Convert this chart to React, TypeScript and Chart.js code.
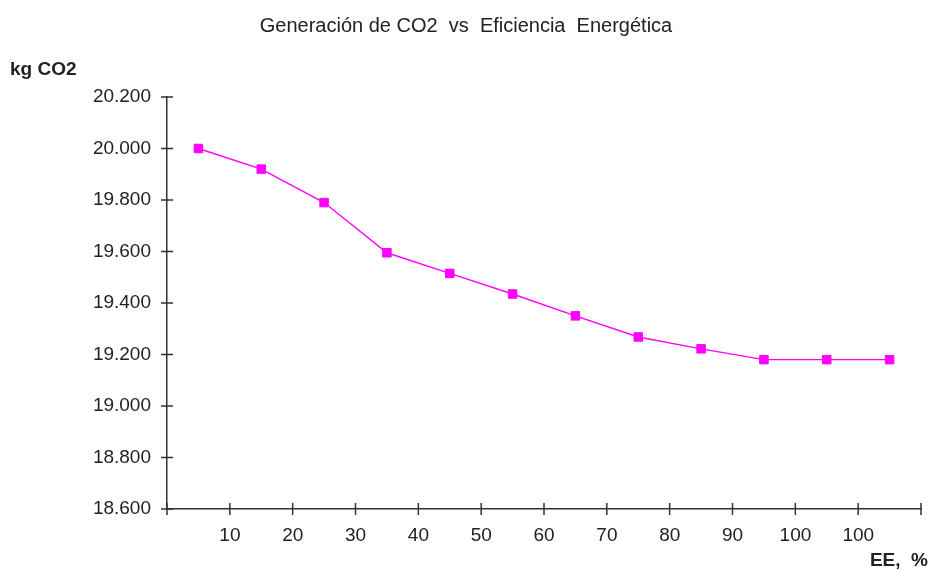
import React, { useEffect, useRef } from 'react';
import { Chart, registerables } from 'chart.js';

Chart.register(...registerables);

// labels sit on the boundary to the right of each category
const eeLabels = ['10', '20', '30', '40', '50', '60', '70', '80', '90', '100', '100', ''];
const co2Values = [20000, 19920, 19790, 19595, 19515, 19435, 19350, 19268, 19222, 19180, 19180, 19180];
const yMin = 18600;
const yMax = 20200;
const yStep = 200;

const chartTitle = 'Generación de CO2  vs  Eficiencia  Energética';
const yLabel = 'kg CO2';
const xLabel = 'EE,  %';

const FONT = 'Arial, "Liberation Sans", sans-serif';

const formatThousands = (v: number) => {
  const whole = Math.floor(v / 1000);
  const rest = String(Math.round(v % 1000)).padStart(3, '0');
  return `${whole}.${rest}`;
};

// tick marks that cross the axis lines, plus the free text labels
const decorPlugin = {
  id: 'decor',
  afterDraw(chart: any) {
    const { ctx, scales } = chart;
    const x = scales.x;
    const y = scales.y;
    ctx.save();
    ctx.strokeStyle = '#333';
    ctx.lineWidth = 1.5;
    ctx.beginPath();
    y.ticks.forEach((t: any) => {
      const py = y.getPixelForValue(t.value);
      ctx.moveTo(y.right - 6, py);
      ctx.lineTo(y.right + 6, py);
    });
    for (let i = 0; i <= x.ticks.length; i++) {
      const px = x.getPixelForValue(i - 0.5);
      ctx.moveTo(px, x.top - 6);
      ctx.lineTo(px, x.top + 6);
    }
    // y axis runs a little past the x axis
    ctx.moveTo(y.right, x.top);
    ctx.lineTo(y.right, x.top + 6);
    ctx.stroke();

    ctx.fillStyle = '#222';
    ctx.textBaseline = 'alphabetic';
    ctx.font = `20px ${FONT}`;
    ctx.textAlign = 'center';
    ctx.fillText(chartTitle, 466, 32);

    ctx.font = `bold 19px ${FONT}`;
    ctx.textAlign = 'left';
    ctx.fillText(yLabel, 10, 75);
    ctx.textAlign = 'right';
    ctx.fillText(xLabel, 928, 566);
    ctx.restore();
  },
};

const App: React.FC = () => {
  const canvasRef = useRef<HTMLCanvasElement | null>(null);
  const chartRef = useRef<Chart | null>(null);

  useEffect(() => {
    document.body.style.margin = '0';
    if (!canvasRef.current) return;
    const ctx = canvasRef.current.getContext('2d');
    if (!ctx) return;

    if (chartRef.current) {
      chartRef.current.destroy();
      chartRef.current = null;
    }

    chartRef.current = new Chart(ctx, {
      type: 'line',
      data: {
        labels: eeLabels,
        datasets: [
          {
            data: co2Values,
            borderColor: '#ff00ff',
            backgroundColor: '#ff00ff',
            borderWidth: 1.4,
            pointStyle: 'rect',
            pointRadius: 6,
            pointBorderWidth: 1,
            tension: 0,
          },
        ],
      },
      options: {
        animation: false,
        responsive: true,
        maintainAspectRatio: false,
        layout: { padding: { top: 97, right: 5, left: 0, bottom: 0 } },
        plugins: {
          legend: { display: false },
          title: { display: false },
          tooltip: { enabled: false },
        },
        scales: {
          x: {
            type: 'category',
            offset: true,
            grid: { display: false, offset: true },
            border: { display: true, color: '#333', width: 1.5 },
            ticks: {
              autoSkip: false,
              maxRotation: 0,
              padding: 7,
              labelOffset: 31.5,
              color: '#222',
              font: { family: FONT, size: 19 },
            },
            afterFit: (scale: any) => {
              scale.height = 61;
            },
          },
          y: {
            min: yMin,
            max: yMax,
            grid: { display: false },
            border: { display: true, color: '#333', width: 1.5 },
            ticks: {
              stepSize: yStep,
              padding: 8,
              color: '#222',
              font: { family: FONT, size: 19 },
              callback: (v: any) => formatThousands(Number(v)),
            },
            afterFit: (scale: any) => {
              scale.width = 167;
            },
          },
        },
      },
      plugins: [decorPlugin],
    });

    return () => {
      if (chartRef.current) {
        chartRef.current.destroy();
        chartRef.current = null;
      }
    };
  }, []);

  return (
    <div style={{ width: 928, height: 570, position: 'relative', background: '#fff' }}>
      <canvas ref={canvasRef}></canvas>
    </div>
  );
};

export default App;
